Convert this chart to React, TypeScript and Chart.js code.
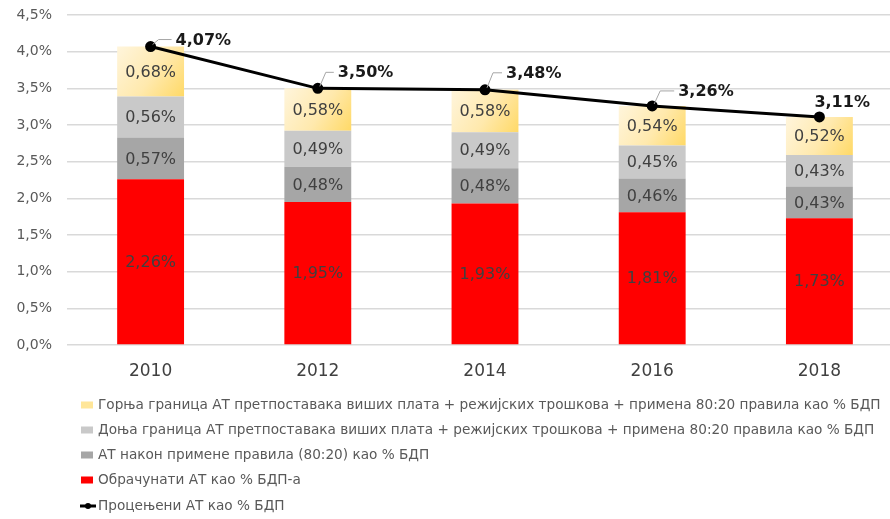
import React, { useEffect, useRef } from "react";
import { Chart, registerables } from "chart.js";

Chart.register(...registerables);

const categories = ["2010", "2012", "2014", "2016", "2018"];
const accrued = [2.26, 1.95, 1.93, 1.81, 1.73];
const after8020 = [0.57, 0.48, 0.48, 0.46, 0.43];
const lowerBound = [0.56, 0.49, 0.49, 0.45, 0.43];
const upperBound = [0.68, 0.58, 0.58, 0.54, 0.52];
const estimated = [4.07, 3.5, 3.48, 3.26, 3.11];
const yTicks = [0, 0.5, 1, 1.5, 2, 2.5, 3, 3.5, 4, 4.5];

const seriesNames = [
  "Обрачунати АТ као % БДП-а",
  "АТ након примене правила (80:20) као % БДП",
  "Доња граница АТ претпоставака виших плата + режијских трошкова + примена 80:20 правила као % БДП",
  "Горња граница АТ претпоставака виших плата + режијских трошкова + примена 80:20 правила као % БДП",
  "Процењени АТ као % БДП",
];

const FONT = "'DejaVu Sans', sans-serif";
const fmt = (v: number, d: number) => v.toFixed(d).replace(".", ",") + "%";

// label offsets for line value labels [dx to text left, dy to text center, leader]
const lineLabelOffsets: [number, number, boolean][] = [
  [25, -6, true],
  [20, -15, true],
  [21, -16, true],
  [26, -14, true],
  [-5, -14, false],
];

const customPlugin = {
  id: "custom",
  beforeDatasetsDraw(chart: any) {
    const ctx = chart.ctx;
    const meta = chart.getDatasetMeta(3);
    meta.data.forEach((el: any) => {
      const { x, y, base, width } = el.getProps(["x", "y", "base", "width"], true);
      const g = ctx.createLinearGradient(x - width / 2, y, x + width / 2, base);
      g.addColorStop(0, "#FFF5DC");
      g.addColorStop(0.55, "#FFE9AD");
      g.addColorStop(1, "#FFD966");
      el.options = Object.assign({}, el.options, { backgroundColor: g });
    });
  },
  afterDatasetsDraw(chart: any) {
    const ctx = chart.ctx;
    ctx.save();
    for (let d = 0; d < 4; d++) {
      const meta = chart.getDatasetMeta(d);
      meta.data.forEach((el: any, i: number) => {
        const { x, y, base } = el.getProps(["x", "y", "base"], true);
        ctx.font = `16px ${FONT}`;
        ctx.fillStyle = "#404040";
        ctx.textAlign = "center";
        ctx.textBaseline = "middle";
        ctx.fillText(fmt(chart.data.datasets[d].data[i], 2), x, (y + base) / 2 + 1);
      });
    }
    const lm = chart.getDatasetMeta(4);
    lm.data.forEach((el: any, i: number) => {
      const { x, y } = el.getProps(["x", "y"], true);
      const [dx, dy, leader] = lineLabelOffsets[i];
      if (leader) {
        ctx.strokeStyle = "#A6A6A6";
        ctx.lineWidth = 1;
        ctx.beginPath();
        ctx.moveTo(x + 2, y - 2);
        ctx.lineTo(x + 8, y + dy - 1);
        ctx.lineTo(x + dx - 4, y + dy - 1);
        ctx.stroke();
      }
      ctx.font = `bold 16px ${FONT}`;
      ctx.fillStyle = "#1a1a1a";
      ctx.textAlign = "left";
      ctx.textBaseline = "middle";
      ctx.fillText(fmt(estimated[i], 2), x + dx, y + dy);
    });
    ctx.restore();
  },
  afterDraw(chart: any) {
    const ctx = chart.ctx;
    ctx.save();
    const order = [3, 2, 1, 0, 4];
    const rowsY = [405, 430, 455, 480, 506];
    order.forEach((di, r) => {
      const ds = chart.data.datasets[di];
      const yy = rowsY[r];
      if (di === 4) {
        ctx.strokeStyle = "#000";
        ctx.lineWidth = 3;
        ctx.beginPath();
        ctx.moveTo(80, yy);
        ctx.lineTo(96, yy);
        ctx.stroke();
        ctx.fillStyle = "#000";
        ctx.beginPath();
        ctx.arc(88, yy, 3, 0, Math.PI * 2);
        ctx.fill();
      } else {
        ctx.fillStyle = di === 3 ? "#FFE699" : ds.backgroundColor;
        ctx.fillRect(81, yy - 3.5, 12, 7);
      }
      ctx.font = `13.65px ${FONT}`;
      ctx.fillStyle = "#595959";
      ctx.textAlign = "left";
      ctx.textBaseline = "middle";
      ctx.fillText(ds.label, 98, yy);
    });
    ctx.restore();
  },
};

export default function App() {
  const ref = useRef<HTMLCanvasElement>(null);
  useEffect(() => {
    if (!ref.current) return;
    const chart = new Chart(ref.current, {
      type: "bar",
      data: {
        labels: categories,
        datasets: [
          { label: seriesNames[0], data: accrued, backgroundColor: "#FF0000", stack: "s", order: 1 },
          { label: seriesNames[1], data: after8020, backgroundColor: "#A6A6A6", stack: "s", order: 1 },
          { label: seriesNames[2], data: lowerBound, backgroundColor: "#C9C9C9", stack: "s", order: 1 },
          { label: seriesNames[3], data: upperBound, backgroundColor: "#FFE699", stack: "s", order: 1 },
          {
            type: "line",
            label: seriesNames[4],
            data: estimated,
            borderColor: "#000",
            backgroundColor: "#000",
            borderWidth: 3,
            pointRadius: 4,
            pointBackgroundColor: "#000",
            pointBorderColor: "#000",
            stack: "line",
            order: 0,
          } as any,
        ],
      },
      options: {
        animation: false,
        responsive: false,
        devicePixelRatio: 1,
        layout: { padding: { top: 15, bottom: 124, left: 0, right: 4 } },
        datasets: { bar: { barPercentage: 0.4, categoryPercentage: 1 } },
        plugins: { legend: { display: false }, tooltip: { enabled: false } },
        scales: {
          x: {
            stacked: true,
            grid: { display: false },
            border: { display: false },
            ticks: { font: { family: FONT, size: 17 }, color: "#404040", padding: 8 },
            afterFit: (s: any) => {
              s.height = 50;
            },
          },
          y: {
            stacked: true,
            min: 0,
            max: 4.5,
            afterBuildTicks: (s: any) => {
              s.ticks = yTicks.map((v) => ({ value: v }));
            },
            grid: {
              color: "#D9D9D9",
              drawTicks: true,
              tickLength: 15,
              tickColor: "rgba(0,0,0,0)",
              lineWidth: 1.5,
            },
            border: { display: false },
            ticks: {
              font: { family: FONT, size: 14 },
              color: "#595959",
              padding: 0,
              callback: (v: any) => fmt(Number(v), 1),
            },
            afterFit: (s: any) => {
              s.width = 67;
            },
          },
        },
      },
      plugins: [customPlugin],
    });
    return () => chart.destroy();
  }, []);
  return (
    <div
      style={{
        position: "fixed",
        left: 0,
        top: 0,
        width: 890,
        height: 519,
        overflow: "hidden",
        background: "#fff",
      }}
    >
      <canvas ref={ref} width={910} height={519} style={{ display: "block" }} />
    </div>
  );
}
